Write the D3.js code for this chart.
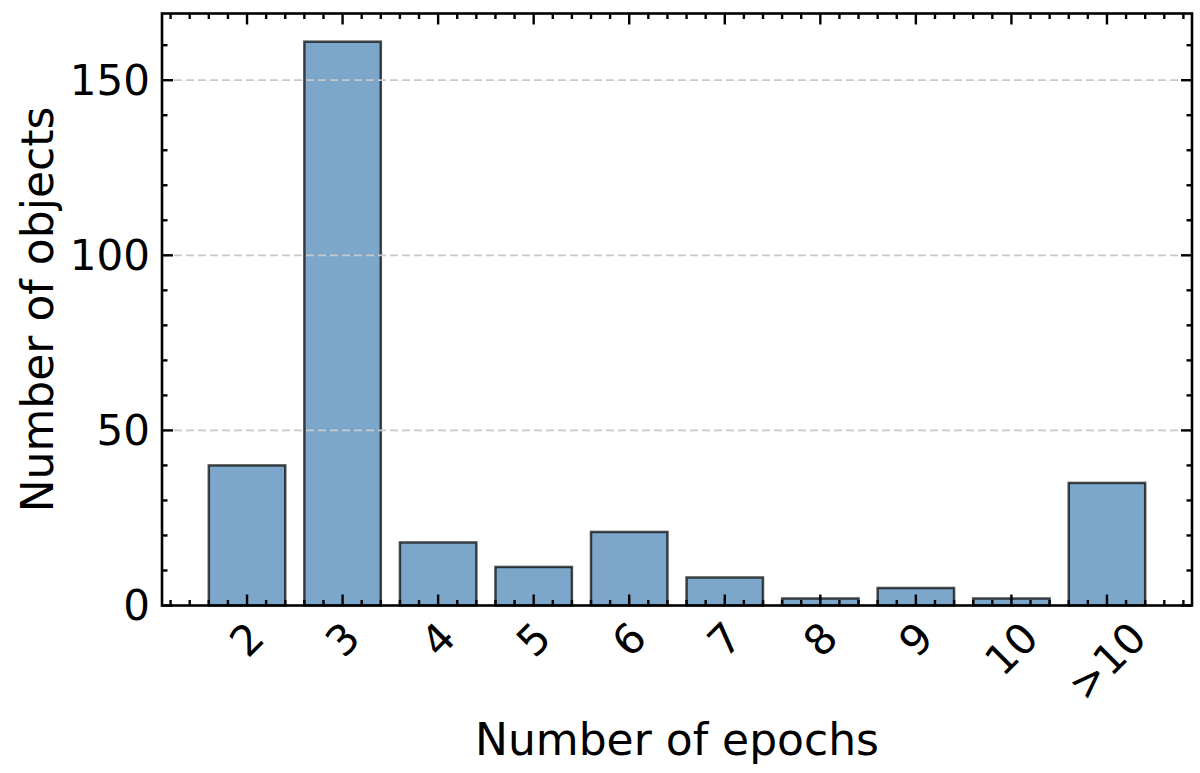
<!DOCTYPE html>
<html>
<head>
<meta charset="utf-8">
<script src="https://cdn.jsdelivr.net/npm/d3@7"></script>
<style>
  html, body { margin: 0; padding: 0; background: #ffffff; }
  svg { display: block; }
  text { font-family: "DejaVu Sans", sans-serif; fill: #000; }
</style>
</head>
<body>
<svg id="chart" width="1200" height="773"></svg>
<script>
// ---- data ----
const categories = ["2", "3", "4", "5", "6", "7", "8", "9", "10", ">10"];
const counts = [40, 161, 18, 11, 21, 8, 2, 5, 2, 35];
const yTickValues = [0, 50, 100, 150];
const xLabel = "Number of epochs";
const yLabel = "Number of objects";

// ---- layout ----
const W = 1200, H = 773;
const plot = { left: 162, right: 1192, top: 13.5, bottom: 605.5 };
const svg = d3.select("#chart");

const n = categories.length;
const barWidth = 0.8;
const xMin = -barWidth / 2, xMax = (n - 1) + barWidth / 2;
const xMargin = (xMax - xMin) * 0.05;
const x = d3.scaleLinear().domain([xMin - xMargin, xMax + xMargin]).range([plot.left, plot.right]);
const y = d3.scaleLinear().domain([0, d3.max(counts) * 1.05]).range([plot.bottom, plot.top]);

// bars
svg.append("g").selectAll("rect").data(counts).join("rect")
  .attr("x", (d, i) => x(i - barWidth / 2))
  .attr("width", (d, i) => x(i + barWidth / 2) - x(i - barWidth / 2))
  .attr("y", d => y(d))
  .attr("height", d => y(0) - y(d))
  .attr("fill", "rgba(70,130,180,0.7)")
  .attr("stroke", "rgba(0,0,0,0.7)")
  .attr("stroke-width", 2.5);

// grid (drawn above bars, like matplotlib default)
svg.append("g").selectAll("line").data(yTickValues.filter(v => v > 0)).join("line")
  .attr("x1", plot.left).attr("x2", plot.right)
  .attr("y1", d => y(d)).attr("y2", d => y(d))
  .attr("stroke", "#c8c8c8")
  .attr("stroke-width", 1.8)
  .attr("stroke-dasharray", "8,4");

// ticks (inside, on all four sides)
const majLen = 11, minLen = 5.5, tickW = 2.4;
const ticks = svg.append("g").attr("stroke", "#000").attr("stroke-width", tickW);
const xMajor = d3.range(n);
const xMinor = [];
for (let v = Math.ceil((xMin - xMargin) * 5) / 5; v <= xMax + xMargin + 1e-9; v += 0.2) {
  const r = Math.round(v * 5) / 5;
  if (Math.abs(r - Math.round(r)) > 1e-6) xMinor.push(r);
}
const yMinor = d3.range(10, y.domain()[1], 10).filter(v => v % 50 !== 0);

function xTicks(vals, len) {
  vals.forEach(v => {
    ticks.append("line").attr("x1", x(v)).attr("x2", x(v)).attr("y1", plot.bottom).attr("y2", plot.bottom - len);
    ticks.append("line").attr("x1", x(v)).attr("x2", x(v)).attr("y1", plot.top).attr("y2", plot.top + len);
  });
}
function yTicks(vals, len) {
  vals.forEach(v => {
    ticks.append("line").attr("x1", plot.left).attr("x2", plot.left + len).attr("y1", y(v)).attr("y2", y(v));
    ticks.append("line").attr("x1", plot.right).attr("x2", plot.right - len).attr("y1", y(v)).attr("y2", y(v));
  });
}
xTicks(xMajor, majLen); xTicks(xMinor, minLen);
yTicks(yTickValues, majLen); yTicks(yMinor, minLen);

// spines
svg.append("rect")
  .attr("x", plot.left).attr("y", plot.top)
  .attr("width", plot.right - plot.left).attr("height", plot.bottom - plot.top)
  .attr("fill", "none").attr("stroke", "#000").attr("stroke-width", 2.6);

// y tick labels
svg.append("g").selectAll("text").data(yTickValues).join("text")
  .attr("x", plot.left - 12)
  .attr("y", d => y(d))
  .attr("text-anchor", "end")
  .attr("dominant-baseline", "central")
  .attr("font-size", 42)
  .text(d => d);

// x tick labels, rotated 45deg, centered under tick, top at fixed pad
const labelTop = 619;
const xl = svg.append("g");
categories.forEach((c, i) => {
  const t = xl.append("text")
    .attr("font-size", 42)
    .attr("text-anchor", "middle")
    .attr("dominant-baseline", "central")
    .text(c);
  const w = t.node().getComputedTextLength();
  const h = 42 * 0.74;
  const half = (w + h) / (2 * Math.SQRT2);
  const cx = x(i), cy = labelTop + half;
  t.attr("transform", `translate(${cx},${cy}) rotate(-45)`);
});

// axis labels
svg.append("text")
  .attr("x", (plot.left + plot.right) / 2)
  .attr("y", 755)
  .attr("text-anchor", "middle")
  .attr("font-size", 44)
  .text(xLabel);

svg.append("text")
  .attr("transform", `translate(53,${(plot.top + plot.bottom) / 2}) rotate(-90)`)
  .attr("text-anchor", "middle")
  .attr("font-size", 44)
  .text(yLabel);
</script>
</body>
</html>
